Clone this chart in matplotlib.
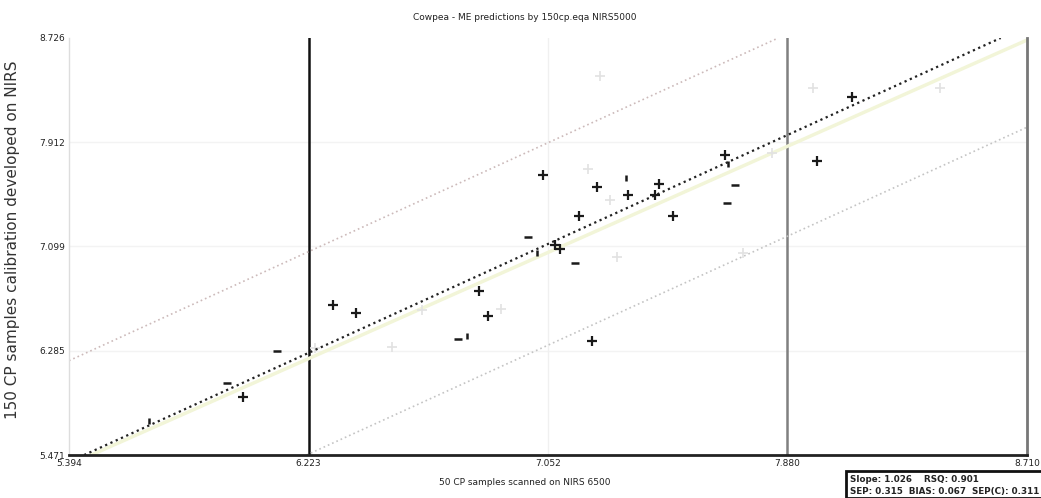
import numpy as np
import matplotlib
matplotlib.use("Agg")
import matplotlib.pyplot as plt
from matplotlib.patches import Rectangle

# axis ranges and tick values
x_ticks = [5.394, 6.223, 7.052, 7.880, 8.710]
y_ticks = [5.471, 6.285, 7.099, 7.912, 8.726]
x_tick_labels = ["5.394", "6.223", "7.052", "7.880", "8.710"]
y_tick_labels = ["5.471", "6.285", "7.099", "7.912", "8.726"]

# samples drawn as crosses
plus_x = [6.308, 6.387, 5.996, 6.813, 6.844, 7.035, 7.076, 7.094, 7.159, 7.204,
          7.222, 7.329, 7.422, 7.436, 7.485, 7.665, 7.983, 8.104]
plus_y = [6.642, 6.579, 5.924, 6.751, 6.556, 7.657, 7.110, 7.079, 7.337, 6.361,
          7.563, 7.501, 7.501, 7.586, 7.337, 7.813, 7.766, 8.266]

# samples drawn as short dashes
dash_x = [5.941, 6.114, 6.740, 6.983, 7.146, 7.699, 7.672]
dash_y = [6.033, 6.283, 6.376, 7.173, 6.970, 7.579, 7.438]

# samples drawn as short vertical ticks
tick_x = [5.671, 6.772, 7.014, 7.322, 7.675]
tick_y = [5.736, 6.400, 7.048, 7.633, 7.742]

# faint (excluded) samples
faint_x = [6.246, 6.512, 6.616, 6.889, 7.191, 7.232, 7.267, 7.291, 7.727, 7.827, 7.969, 8.409]
faint_y = [6.306, 6.314, 6.603, 6.611, 7.704, 8.429, 7.462, 7.017, 7.048, 7.828, 8.336, 8.336]

# calibration fit and prediction band
fit_slope = 1.026
fit_intercept = -0.117
band = 0.79

fig = plt.figure(figsize=(10.41, 4.98), dpi=100)
ax = fig.add_axes([69 / 1041, 1 - 455 / 498, 958 / 1041, 417 / 498])
ax.set_xlim(x_ticks[0], x_ticks[-1])
ax.set_ylim(y_ticks[0], y_ticks[-1])

# light grid
for yv in y_ticks[1:-1]:
    ax.axhline(yv, color="#f3f3f3", lw=1, zorder=0)
ax.axvline(x_ticks[2], color="#f0f0f0", lw=1, zorder=0)
ax.axvline(x_ticks[1], color="#111111", lw=1.8, zorder=1)
ax.axvline(x_ticks[3], color="#808080", lw=1.8, zorder=1)

# 1:1 line
ax.axline((x_ticks[0], x_ticks[0]), slope=1, color="#f2f5d8", lw=2.5, zorder=1)

# regression and band
ax.axline((0, fit_intercept), slope=fit_slope, color="#222222", lw=1.6,
          ls=(0, (1, 1.6)), zorder=3)
ax.axline((0, fit_intercept + band), slope=fit_slope, color="#ccbaba", lw=1.2,
          ls=(0, (1, 1.8)), zorder=2)
ax.axline((0, fit_intercept - band), slope=fit_slope, color="#c4c4c4", lw=1.2,
          ls=(0, (1, 1.8)), zorder=2)

ax.plot(faint_x, faint_y, "+", color="#e2e2e2", ms=7, mew=1.2, zorder=2)
ax.plot(plus_x, plus_y, "+", color="#1a1a1a", ms=7, mew=1.6, zorder=4)
ax.plot(dash_x, dash_y, "_", color="#1a1a1a", ms=6, mew=1.8, zorder=4)
ax.plot(tick_x, tick_y, "|", color="#1a1a1a", ms=5, mew=1.8, zorder=4)

ax.set_xticks(x_ticks)
ax.set_xticklabels(x_tick_labels)
ax.set_yticks(y_ticks)
ax.set_yticklabels(y_tick_labels)
ax.tick_params(length=0, labelsize=6.5, pad=3, colors="#222222")

ax.spines["top"].set_visible(False)
ax.spines["left"].set_color("#dddddd")
ax.spines["left"].set_linewidth(1)
ax.spines["bottom"].set_color("#222222")
ax.spines["bottom"].set_linewidth(2)
ax.spines["right"].set_color("#777777")
ax.spines["right"].set_linewidth(2)

fig.text(525 / 1041, 1 - 18 / 498, "Cowpea - ME predictions by 150cp.eqa NIRS5000",
         ha="center", va="center", fontsize=6.5, color="#222222")
fig.text(525 / 1041, 1 - 482 / 498, "50 CP samples scanned on NIRS 6500",
         ha="center", va="center", fontsize=6.5, color="#222222")
fig.text(13 / 1041, 1 - 240 / 498, "150 CP samples calibration developed on NIRS",
         ha="center", va="center", rotation=90, fontsize=11, color="#333333")

# statistics box
fig.patches.append(Rectangle((846 / 1041, 0), 200 / 1041, 27 / 498,
                             transform=fig.transFigure, fill=False,
                             edgecolor="#111111", lw=2))
fig.text(850 / 1041, 1 - 479 / 498, "Slope: 1.026    RSQ: 0.901",
         ha="left", va="center", fontsize=6.3, fontweight="bold", color="#222222")
fig.text(850 / 1041, 1 - 491 / 498, "SEP: 0.315  BIAS: 0.067  SEP(C): 0.311",
         ha="left", va="center", fontsize=6.3, fontweight="bold", color="#222222")

fig.savefig("out.png", dpi=100, facecolor="white")
